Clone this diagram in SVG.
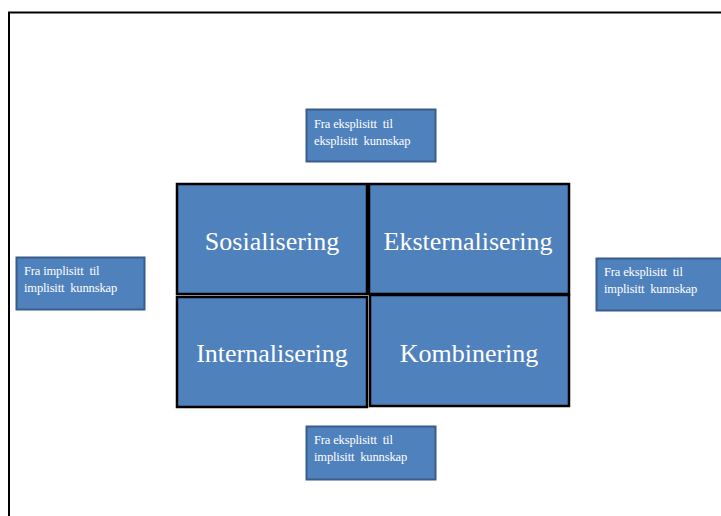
<svg xmlns="http://www.w3.org/2000/svg" width="721" height="516" viewBox="0 0 721 516">
<style>
.small{fill:#4F81BD;stroke:#385D8A;stroke-width:2}
.big{fill:#4F81BD;stroke:#000;stroke-width:2.5}
.st{font-family:"Liberation Serif","Times New Roman",serif;font-size:12.5px;fill:#fff;white-space:pre;letter-spacing:-0.15px}
.bt{font-family:"Liberation Serif","Times New Roman",serif;font-size:26px;fill:#fff;text-anchor:middle}
</style>
<rect x="0" y="0" width="721" height="516" fill="#fff"/>
<rect x="9" y="12.5" width="740" height="540" fill="none" stroke="#000" stroke-width="2"/>
<g id="connectors"></g>
<g id="n-top">
<rect class="small" x="306.5" y="109.5" width="129" height="52"/>
<text class="st" x="314" y="128" xml:space="preserve">Fra eksplisitt  til</text>
<text class="st" x="314" y="145" xml:space="preserve">eksplisitt  kunnskap</text>
</g>
<g id="n-left">
<rect class="small" x="16.5" y="257.5" width="128" height="52"/>
<text class="st" x="24" y="275" xml:space="preserve">Fra implisitt  til</text>
<text class="st" x="24" y="292" xml:space="preserve">implisitt  kunnskap</text>
</g>
<g id="n-right">
<rect class="small" x="596.5" y="258.5" width="130" height="52"/>
<text class="st" x="604" y="276" xml:space="preserve">Fra eksplisitt  til</text>
<text class="st" x="604" y="293" xml:space="preserve">implisitt  kunnskap</text>
</g>
<g id="n-bottom">
<rect class="small" x="306.5" y="426.5" width="129" height="53"/>
<text class="st" x="314" y="444" xml:space="preserve">Fra eksplisitt  til</text>
<text class="st" x="314" y="461" xml:space="preserve">implisitt  kunnskap</text>
</g>
<g id="n-sos">
<rect class="big" x="177" y="184" width="190" height="110"/>
<text class="bt" x="272" y="250">Sosialisering</text>
</g>
<g id="n-eks">
<rect class="big" x="369" y="184" width="200" height="110"/>
<text class="bt" x="468" y="250">Eksternalisering</text>
</g>
<g id="n-int">
<rect class="big" x="177" y="297" width="190" height="110"/>
<text class="bt" x="272" y="362">Internalisering</text>
</g>
<g id="n-kom">
<rect class="big" x="370" y="295" width="199" height="111"/>
<text class="bt" x="469" y="362">Kombinering</text>
</g>
</svg>
